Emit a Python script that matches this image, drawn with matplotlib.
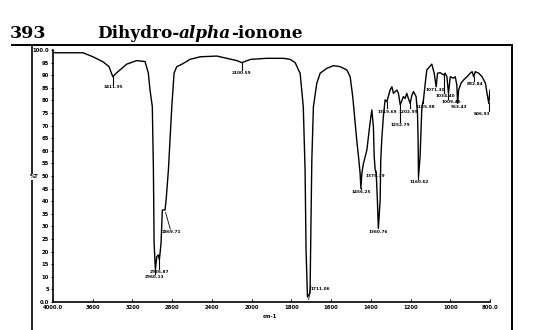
import matplotlib
matplotlib.use("Agg")
import matplotlib.pyplot as plt
import numpy as np
from matplotlib.lines import Line2D

# spectrum: wavenumber (cm-1) and %T
wavenumber = [4000, 3963, 3698, 3597, 3496, 3436, 3398, 3358, 3257, 3157, 3073, 3040,
              3023, 3000, 2989, 2982, 2969, 2955, 2939, 2929, 2912, 2899, 2872, 2861,
              2848, 2838, 2804, 2781, 2754, 2720, 2687, 2620, 2519, 2351, 2250, 2149,
              2099, 2008, 1924, 1840, 1807, 1781, 1760, 1756, 1740, 1731, 1726, 1719,
              1706, 1697, 1689, 1672, 1655, 1622, 1588, 1555, 1521, 1504, 1491, 1479,
              1471, 1462, 1454, 1450, 1445, 1437, 1420, 1404, 1395, 1387, 1383, 1378,
              1373, 1367, 1362, 1353, 1350, 1345, 1337, 1328, 1319, 1303, 1294, 1286,
              1269, 1261, 1252, 1236, 1227, 1219, 1211, 1202, 1193, 1185, 1172, 1165,
              1162, 1160, 1152, 1143, 1135, 1126, 1118, 1093, 1081, 1071, 1064, 1051,
              1034, 1026, 1017, 1009, 1000, 984, 975, 967, 963, 958, 946, 933, 916,
              899, 890, 882, 874, 857, 840, 823, 815, 806, 800]
transmittance = [99.0, 98.9, 98.9, 97.3, 95.3, 93.4, 89.4, 91.0, 94.4, 95.8, 95.4, 90.8,
                 84.1, 77.5, 52.4, 23.4, 12.7, 18.0, 18.7, 16.7, 23.4, 36.5, 36.5, 40.5,
                 47.2, 52.4, 77.5, 90.8, 93.4, 94.0, 94.7, 96.3, 97.3, 97.6, 96.7, 95.8,
                 95.0, 96.3, 96.7, 96.7, 96.3, 95.0, 91.4, 90.9, 77.5, 52.4, 20.6, 2.0,
                 3.6, 56.3, 77.5, 86.8, 90.8, 92.7, 93.8, 93.4, 92.1, 89.4, 81.5, 70.9,
                 64.3, 57.7, 51.1, 45.1, 51.2, 55.0, 60.3, 70.9, 76.2, 69.6, 57.7, 52.4,
                 51.6, 40.5, 29.2, 40.5, 56.3, 64.3, 73.5, 80.2, 79.5, 84.1, 85.4, 82.8,
                 84.1, 82.8, 78.2, 81.5, 80.8, 82.8, 80.8, 78.8, 82.1, 83.5, 81.5, 74.9,
                 64.3, 49.7, 57.7, 77.5, 80.2, 86.8, 92.1, 94.4, 90.8, 85.4, 90.8, 91.0,
                 90.1, 90.8, 89.4, 82.8, 89.4, 88.8, 89.4, 86.1, 78.8, 84.1, 86.8, 88.1,
                 89.4, 90.8, 91.4, 89.4, 91.4, 90.8, 89.4, 86.8, 82.8, 78.8, 84.1]

# peak annotations
peak_text = ["3411.95", "2960.13", "2926.87", "2869.71", "2100.59", "1711.06",
             "1456.25", "1375.79", "1360.76", "1319.69", "1252.79", "1202.99",
             "1160.62", "1135.98", "1071.30", "1034.40", "1009.46", "963.43",
             "882.84", "806.93"]
peak_wn = [3398, 2969, 2929, 2872, 2099, 1719, 1450, 1378, 1362, 1319, 1252, 1202,
           1160, 1135, 1071, 1034, 1009, 963, 882, 806]
peak_t = [89.4, 12.7, 16.7, 36.5, 95.0, 2.0, 45.1, 52.4, 29.2, 79.5, 78.2, 78.8,
          49.7, 80.2, 85.4, 90.1, 82.8, 78.8, 89.4, 78.8]
label_wn = [3395, 2982, 2924, 2804, 2099, 1702, 1448, 1378, 1361, 1319, 1252, 1210,
            1155, 1128, 1073, 1023, 996, 954, 874, 839]
label_t = [85.4, 9.8, 11.8, 27.7, 90.7, 5.2, 43.5, 50.1, 27.9, 75.5, 70.2, 75.5,
           47.7, 77.5, 84.1, 81.7, 79.4, 77.5, 86.5, 74.6]

x_ticks = [4000, 3600, 3200, 2800, 2400, 2000, 1800, 1600, 1400, 1200, 1000, 800]
x_tick_labels = ["4000.0", "3600", "3200", "2800", "2400", "2000", "1800", "1600",
                 "1400", "1200", "1000", "800.0"]
y_ticks = list(range(0, 101, 5))
y_tick_labels = ["0.0"] + [str(v) for v in y_ticks[1:-1]] + ["100.0"]

small_font = ["Liberation Sans Narrow", "DejaVu Sans"]


# x axis is compressed 2x above 2000 cm-1
def fwd(w):
    w = np.asarray(w, dtype=float)
    return np.where(w >= 2000, 5 + (w - 2000) / 400.0, 5 + (w - 2000) / 200.0)


def inv(p):
    p = np.asarray(p, dtype=float)
    return np.where(p >= 5, 2000 + (p - 5) * 400.0, 2000 + (p - 5) * 200.0)


W, H = 550, 330
fig = plt.figure(figsize=(5.5, 3.3), dpi=100)
ax = fig.add_axes([53 / W, 1 - 302 / H, 437 / W, 252 / H])

ax.set_xscale("function", functions=(fwd, inv))
ax.plot(wavenumber, transmittance, color="black", lw=1.0)
ax.set_xlim(4000, 800)
ax.set_ylim(0, 100)

ax.spines["top"].set_visible(False)
ax.spines["right"].set_visible(False)
ax.spines["left"].set_linewidth(1.2)
ax.spines["bottom"].set_linewidth(1.2)

ax.set_xticks(x_ticks)
ax.set_xticklabels(x_tick_labels, family=small_font, fontsize=3.8, fontweight="bold")
ax.xaxis.set_minor_locator(plt.NullLocator())
ax.tick_params(axis="x", direction="in", length=2, width=0.8, pad=2.5)
ax.set_yticks(y_ticks)
ax.set_yticklabels(y_tick_labels, family=small_font, fontsize=3.8, fontweight="bold")
ax.tick_params(axis="y", direction="out", length=1.5, width=0.8, pad=1.5)

ax.set_xlabel("cm-1", family=small_font, fontsize=3.8, fontweight="bold")
ax.xaxis.set_label_coords(0.497, -0.048)

# peak labels with short leaders
for txt, pw, pt, lw_, lt in zip(peak_text, peak_wn, peak_t, label_wn, label_t):
    if txt in ("2869.71", "1711.06"):
        ax.plot([pw - 6, lw_ + (15 if txt == "2869.71" else 0)], [pt - 1, lt + 1.2],
                color="black", lw=0.6)
        ha = "center" if txt == "2869.71" else "left"
    else:
        ax.plot([pw, pw], [pt, lt + 1.3], color="black", lw=0.8)
        ha = "center"
    ax.text(lw_, lt, txt, ha=ha, va="center", family=small_font, fontsize=3.1,
            fontweight="bold")

# outer frame and rule under the title
fig.add_artist(Line2D([12 / W, 512 / W], [1 - 45 / H, 1 - 45 / H], color="black", lw=1.4))
fig.add_artist(Line2D([32 / W, 32 / W], [0, 1 - 45 / H], color="black", lw=1.2))
fig.add_artist(Line2D([512 / W, 512 / W], [0, 1 - 45 / H], color="black", lw=1.4))
fig.text(34 / W, 1 - 177 / H, "%T", ha="center", va="center", family=small_font,
         fontsize=3.8, fontweight="bold",
         bbox=dict(facecolor="white", edgecolor="none", pad=0.5))

# title: number, then name with italic part
fig.text(10 / W, 1 - 38 / H, "393", family="DejaVu Serif", fontweight="bold",
         fontsize=12.5, va="baseline")
renderer = fig.canvas.get_renderer()
x = 97 / W
for part, style in [("Dihydro-", "normal"), ("alpha", "italic"), ("-ionone", "normal")]:
    t = fig.text(x, 1 - 38 / H, part, family="DejaVu Serif", fontweight="bold",
                 fontstyle=style, fontsize=12.2, va="baseline")
    bb = t.get_window_extent(renderer=renderer)
    x = bb.x1 / (W * fig.dpi / 100)

fig.savefig("out.png", dpi=100, facecolor="white")
